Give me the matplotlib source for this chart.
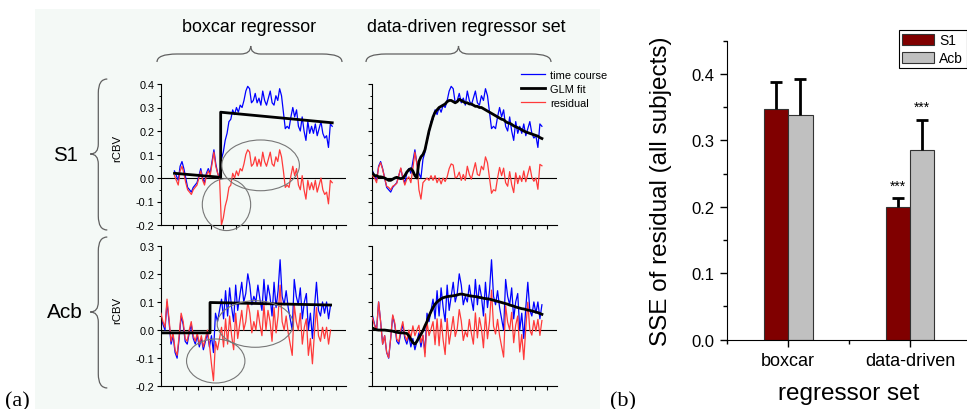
import numpy as np
import matplotlib
matplotlib.use("Agg")
import matplotlib.pyplot as plt
from matplotlib.patches import Ellipse, PathPatch, Rectangle
from matplotlib.path import Path
from matplotlib.ticker import MultipleLocator, FormatStrFormatter

plt.rcParams['font.family'] = ['Liberation Sans', 'DejaVu Sans']
plt.rcParams['axes.unicode_minus'] = False

# ---- (a) rCBV time courses, 85 samples each ----
s1_course = [0.03, 0.01, -0.01, 0.05, 0.07, 0.04, 0.00, -0.04, -0.05, -0.06,
             -0.04, -0.03, -0.02, 0.01, 0.04, 0.00, -0.02, 0.02, 0.04, 0.02,
             0.07, 0.12, 0.06, 0.02, 0.00, 0.08, 0.11, 0.16, 0.19, 0.24,
             0.25, 0.29, 0.27, 0.30, 0.28, 0.31, 0.30, 0.33, 0.37, 0.39,
             0.38, 0.32, 0.33, 0.36, 0.32, 0.34, 0.31, 0.37, 0.33, 0.31,
             0.34, 0.37, 0.32, 0.31, 0.35, 0.33, 0.38, 0.35, 0.28, 0.21,
             0.22, 0.21, 0.26, 0.30, 0.26, 0.29, 0.22, 0.20, 0.26, 0.20,
             0.16, 0.24, 0.19, 0.22, 0.19, 0.23, 0.18, 0.21, 0.24, 0.19,
             0.17, 0.18, 0.13, 0.23, 0.22]
s1_box_resid = [0.01, -0.01, -0.03, 0.03, 0.05, 0.02, -0.02, -0.05, -0.06, -0.07,
                -0.05, -0.04, -0.03, 0.00, 0.03, -0.01, -0.03, 0.01, 0.03, 0.01,
                0.06, 0.11, 0.05, 0.02, 0.00, -0.20, -0.17, -0.12, -0.09, -0.04,
                -0.03, 0.02, 0.00, 0.03, 0.01, 0.04, 0.03, 0.06, 0.10, 0.12,
                0.11, 0.05, 0.06, 0.09, 0.05, 0.08, 0.05, 0.11, 0.07, 0.05,
                0.08, 0.11, 0.06, 0.05, 0.09, 0.07, 0.12, 0.09, 0.03, -0.04,
                -0.03, -0.04, 0.01, 0.05, 0.01, 0.04, -0.03, -0.05, 0.01, -0.05,
                -0.09, -0.01, -0.05, -0.02, -0.05, -0.01, -0.06, -0.03, 0.00, -0.05,
                -0.07, -0.06, -0.11, -0.01, -0.02]
s1_box_fit_idx = [0, 24.6, 24.6, 84]
s1_box_fit = [0.02, 0.003, 0.28, 0.235]
s1_dd_fit = [0.02, 0.01, 0.01, 0.005, 0.005, 0.003, 0.0, -0.005, -0.01, -0.01,
             -0.005, 0.0, 0.003, 0.0, -0.003, 0.0, 0.01, 0.025, 0.035, 0.04,
             0.03, 0.01, 0.0, 0.07, 0.09, 0.10, 0.12, 0.16, 0.20, 0.23,
             0.26, 0.28, 0.29, 0.30, 0.305, 0.31, 0.315, 0.325, 0.33, 0.33,
             0.325, 0.32, 0.325, 0.335, 0.33, 0.325, 0.32, 0.32, 0.315, 0.315,
             0.31, 0.305, 0.305, 0.30, 0.30, 0.295, 0.29, 0.285, 0.28, 0.275,
             0.27, 0.265, 0.26, 0.255, 0.25, 0.248, 0.24, 0.235, 0.233, 0.228,
             0.222, 0.218, 0.214, 0.21, 0.205, 0.20, 0.196, 0.193, 0.19, 0.187,
             0.184, 0.181, 0.178, 0.172, 0.168]
s1_dd_resid = [0.01, 0.0, -0.02, 0.045, 0.065, 0.037, 0.0, -0.035, -0.04, -0.05,
               -0.035, -0.03, -0.023, 0.01, 0.043, 0.0, -0.03, -0.005, 0.005, -0.02,
               0.04, 0.11, 0.06, -0.05, -0.09, -0.02, -0.01, 0.0, -0.01, 0.01,
               -0.01, 0.01, -0.02, 0.0, -0.025, 0.0, -0.015, 0.005, 0.04, 0.06,
               0.055, 0.0, 0.005, 0.025, -0.01, 0.015, -0.01, 0.05, 0.015, -0.005,
               0.03, 0.065, 0.015, 0.01, 0.05, 0.035, 0.09, 0.065, 0.0, -0.065,
               -0.05, -0.055, 0.0, 0.045, 0.01, 0.042, -0.02, -0.035, 0.027, -0.028,
               -0.062, 0.022, -0.024, 0.01, -0.015, 0.03, -0.016, 0.017, 0.05, 0.003,
               -0.014, 0.0, -0.048, 0.058, 0.052]

acb_course = [0.05, 0.02, 0.00, 0.10, 0.03, -0.05, -0.02, -0.08, -0.10, -0.03,
              0.05, 0.02, -0.04, -0.05, -0.01, 0.02, -0.03, -0.05, -0.02, -0.06,
              -0.03, -0.07, -0.04, -0.01, -0.06, -0.02, -0.08, 0.06, 0.03, 0.07,
              0.11, 0.04, 0.14, 0.05, 0.15, 0.08, 0.03, 0.16, 0.07, 0.12,
              0.17, 0.10, 0.13, 0.20, 0.16, 0.09, 0.12, 0.10, 0.16, 0.11,
              0.07, 0.18, 0.09, 0.16, 0.12, 0.05, 0.17, 0.08, 0.14, 0.25,
              0.12, 0.09, 0.14, 0.08, 0.04, 0.00, 0.18, 0.12, 0.09, 0.15,
              0.04, 0.10, 0.13, 0.00, 0.06, -0.03, 0.08, 0.17, 0.07, 0.05,
              0.10, 0.06, 0.10, 0.04, 0.09]
acb_box_resid = [0.06, 0.03, 0.01, 0.11, 0.04, -0.04, -0.01, -0.07, -0.09, -0.02,
                 0.06, 0.03, -0.03, -0.04, 0.00, 0.03, -0.02, -0.04, -0.01, -0.05,
                 -0.02, -0.06, -0.03, 0.00, -0.05, -0.12, -0.18, -0.04, -0.07, -0.03,
                 0.01, -0.06, 0.04, -0.05, 0.05, -0.02, -0.07, 0.06, -0.03, 0.02,
                 0.07, 0.00, 0.03, 0.10, 0.06, -0.01, 0.03, 0.00, 0.07, 0.02,
                 -0.02, 0.09, 0.00, 0.07, 0.03, -0.04, 0.08, -0.01, 0.05, 0.16,
                 0.03, 0.00, 0.05, -0.01, -0.05, -0.09, 0.09, 0.03, 0.00, 0.06,
                 -0.05, 0.01, 0.04, -0.09, -0.03, -0.12, -0.01, 0.08, -0.02, -0.04,
                 0.01, -0.03, 0.01, -0.05, 0.00]
acb_box_fit_idx = [0, 24.3, 24.3, 84]
acb_box_fit = [-0.01, -0.01, 0.098, 0.089]
acb_dd_fit = [0.007, 0.004, 0.001, 0.0, 0.0, 0.0, 0.0, -0.001, -0.002, -0.003,
              -0.004, -0.006, -0.008, -0.009, -0.01, -0.01, -0.011, -0.012, -0.02, -0.033,
              -0.045, -0.05, -0.04, -0.027, -0.015, -0.002, 0.015, 0.03, 0.05, 0.066,
              0.08, 0.092, 0.10, 0.106, 0.111, 0.115, 0.117, 0.119, 0.12, 0.121,
              0.122, 0.123, 0.125, 0.127, 0.128, 0.127, 0.125, 0.124, 0.122, 0.121,
              0.12, 0.119, 0.118, 0.116, 0.115, 0.113, 0.112, 0.111, 0.11, 0.108,
              0.106, 0.104, 0.102, 0.10, 0.098, 0.096, 0.094, 0.092, 0.089, 0.087,
              0.085, 0.082, 0.08, 0.078, 0.076, 0.075, 0.073, 0.071, 0.07, 0.068,
              0.066, 0.064, 0.062, 0.059, 0.056]
acb_dd_resid = [0.043, 0.016, 0.0, 0.10, 0.03, -0.05, -0.02, -0.079, -0.098, -0.027,
                0.054, 0.026, -0.032, -0.041, 0.0, 0.03, -0.019, -0.038, 0.0, -0.027,
                0.015, -0.02, 0.0, 0.017, -0.045, -0.018, -0.095, 0.03, -0.02, 0.004,
                0.03, -0.052, 0.04, -0.056, 0.039, -0.035, -0.087, 0.041, -0.05, -0.001,
                0.048, -0.023, 0.005, 0.073, 0.032, -0.037, -0.005, -0.024, 0.038, -0.011,
                -0.05, 0.061, -0.028, 0.044, 0.005, -0.063, 0.058, -0.031, 0.03, 0.142,
                0.014, -0.014, 0.038, -0.02, -0.058, -0.096, 0.086, 0.028, 0.001, 0.063,
                -0.045, 0.018, 0.05, -0.078, -0.016, -0.105, 0.007, 0.099, 0.0, -0.018,
                0.034, -0.004, 0.038, -0.019, 0.034]

# ---- (b) SSE of residual ----
groups = ['boxcar', 'data-driven']
s1_sse = [0.347, 0.200]
s1_err = [0.041, 0.013]
acb_sse = [0.338, 0.286]
acb_err = [0.054, 0.045]
stars = ['', '***']

W, H = 967, 410
fig = plt.figure(figsize=(W / 100, H / 100), dpi=100)


def fx(x):
    return x / W


def fy(y):
    return 1 - y / H


def axes_px(left, top, right, bottom):
    return fig.add_axes([fx(left), fy(bottom), (right - left) / W, (bottom - top) / H])


# pale background behind panel (a)
fig.patches.append(Rectangle((fx(35), 0), 565 / W, 400 / H, transform=fig.transFigure,
                             facecolor='#f4f9f6', edgecolor='none', zorder=-10))


def brace(pts_codes):
    verts = [(fx(x), fy(y)) for x, y in pts_codes[0]]
    p = PathPatch(Path(verts, pts_codes[1]), transform=fig.transFigure,
                  fill=False, edgecolor='#606060', lw=0.9)
    fig.patches.append(p)


C3, LT, MT = Path.CURVE3, Path.LINETO, Path.MOVETO


def hbrace(x1, x2, xm, y, depth=8, tip=8, r=20, rt=10):
    pts = [(x1, y + depth), (x1, y), (x1 + r, y), (xm - rt, y), (xm, y), (xm, y - tip),
           (xm, y), (xm + rt, y), (x2 - r, y), (x2, y), (x2, y + depth)]
    brace((pts, [MT, C3, C3, LT, C3, C3, C3, C3, LT, C3, C3]))


def vbrace(y1, y2, ym, x, depth=9, tip=8, r=14, rt=10):
    pts = [(x + depth, y1), (x, y1), (x, y1 + r), (x, ym - rt), (x, ym), (x - tip, ym),
           (x, ym), (x, ym + rt), (x, y2 - r), (x, y2), (x + depth, y2)]
    brace((pts, [MT, C3, C3, LT, C3, C3, C3, C3, LT, C3, C3]))


hbrace(157, 342, 250.7, 55)
hbrace(366, 551, 458.5, 55)
vbrace(80, 231, 155, 98.3)
vbrace(238, 389, 313, 98.3)

fig.text(fx(249.3), fy(27), 'boxcar regressor', ha='center', va='center', fontsize=12.9)
fig.text(fx(465.8), fy(28), 'data-driven regressor set', ha='center', va='center', fontsize=12.9)
fig.text(fx(65.8), fy(156), 'S1', ha='center', va='center', fontsize=14.7)
fig.text(fx(64.7), fy(313), 'Acb', ha='center', va='center', fontsize=15)
fig.text(fx(5), fy(406), '(a)', ha='left', va='baseline', fontsize=16, family='Liberation Serif')
fig.text(fx(610), fy(406), '(b)', ha='left', va='baseline', fontsize=16, family='Liberation Serif')

n = len(s1_course)
idx = np.arange(n)


def panel(ax, x0, dx, course, resid, fit_idx, fit, ylim, left_labels):
    ax.set_facecolor('none')
    ax.axhline(0, color='black', lw=0.8, zorder=1)
    lb, = ax.plot(x0 + dx * idx, course, color='#0000ff', lw=0.9, zorder=2)
    lr, = ax.plot(x0 + dx * idx, resid, color='#ff3a3a', lw=0.9, zorder=3)
    lk, = ax.plot(x0 + dx * np.asarray(fit_idx), fit, color='black', lw=2, zorder=4)
    ax.set_xlim(0, 14.8)
    ax.set_ylim(*ylim)
    ax.set_xticks(np.arange(1, 15))
    ax.set_xticklabels([])
    ax.yaxis.set_major_locator(MultipleLocator(0.1))
    ax.yaxis.set_minor_locator(MultipleLocator(0.05))
    ax.yaxis.set_major_formatter(FormatStrFormatter('%.1f'))
    ax.tick_params(axis='x', direction='out', length=3, width=0.8)
    ax.tick_params(axis='y', which='major', direction='out', length=3, width=0.8,
                   labelsize=7.8, pad=1.5, labelleft=left_labels)
    ax.tick_params(axis='y', which='minor', direction='out', length=1.8, width=0.7)
    for s in ['top', 'right']:
        ax.spines[s].set_visible(False)
    for s in ['left', 'bottom']:
        ax.spines[s].set_linewidth(0.8)
    if left_labels:
        ax.set_ylabel('rCBV', fontsize=8.2)
        ax.yaxis.set_label_coords(-0.21, 0.55)
    return lb, lk, lr


ax1 = axes_px(160.7, 85, 346, 226)
ax2 = axes_px(372.3, 85, 557.3, 226)
ax3 = axes_px(160.7, 246.7, 346, 387.3)
ax4 = axes_px(372.3, 246.7, 557.3, 387.3)

dx_full = 13.55 / (n - 1)
panel(ax1, 1.1, 0.15, s1_course, s1_box_resid, s1_box_fit_idx, s1_box_fit, (-0.2, 0.4), True)
handles = panel(ax2, 0.02, dx_full, s1_course, s1_dd_resid, idx, s1_dd_fit, (-0.2, 0.4), False)
panel(ax3, 0.02, dx_full, acb_course, acb_box_resid, acb_box_fit_idx, acb_box_fit, (-0.2, 0.3), True)
panel(ax4, 0.02, dx_full, acb_course, acb_dd_resid, idx, acb_dd_fit, (-0.2, 0.3), False)

ax2.legend(handles, ['time course', 'GLM fit', 'residual'], loc='upper left',
           bbox_to_anchor=(fx(521), fy(71)), bbox_transform=fig.transFigure,
           frameon=False, fontsize=7.9, handlelength=2.2, handletextpad=0.45,
           labelspacing=0.38, borderpad=0, borderaxespad=0)

# grey ellipses around the boxcar residual misfit
for ax, (cx, cy, w, h) in [(ax1, (0.355, 0.145, 0.261, 0.369)), (ax1, (0.539, 0.423, 0.419, 0.36)),
                           (ax3, (0.297, 0.18, 0.315, 0.313)), (ax3, (0.51, 0.443, 0.41, 0.331))]:
    ax.add_patch(Ellipse((cx, cy), w, h, transform=ax.transAxes, fill=False,
                         edgecolor='#777777', lw=0.8, clip_on=False, zorder=5))

# ---- (b) bar chart ----
axb = axes_px(727.3, 41.7, 970.9, 340.7)
x = np.arange(len(groups))
bw = 0.2
axb.bar(x - bw / 2, s1_sse, bw, color='#800000', edgecolor='#333333', lw=0.8, label='S1', zorder=2)
axb.bar(x + bw / 2, acb_sse, bw, color='#c0c0c0', edgecolor='#333333', lw=0.8, label='Acb', zorder=2)
for xs, vals, errs in [(x - bw / 2, s1_sse, s1_err), (x + bw / 2, acb_sse, acb_err)]:
    tops = np.array(vals) + np.array(errs)
    axb.vlines(xs, vals, tops, color='black', lw=2, zorder=3)
    axb.plot(xs, tops, ls='none', marker='_', ms=8, mew=2, color='black', zorder=3)
    for xi, t, s in zip(xs, tops, stars):
        if s:
            axb.annotate(s, xy=(xi, t), xytext=(0, 4), textcoords='offset points',
                         ha='center', va='bottom', fontsize=10)

axb.set_xlim(-0.5, 1.5)
axb.set_ylim(0, 0.45)
axb.set_xticks(x)
axb.set_xticklabels(groups)
axb.xaxis.set_minor_locator(MultipleLocator(0.5))
axb.yaxis.set_major_locator(MultipleLocator(0.1))
axb.yaxis.set_minor_locator(MultipleLocator(0.05))
axb.yaxis.set_major_formatter(FormatStrFormatter('%.1f'))
axb.tick_params(axis='x', which='major', direction='out', length=5, width=1, labelsize=13, pad=4)
axb.tick_params(axis='x', which='minor', direction='out', length=3, width=1)
axb.tick_params(axis='y', which='major', direction='out', length=5, width=1, labelsize=12, pad=4)
axb.tick_params(axis='y', which='minor', direction='out', length=3, width=1)
for s in ['top', 'right']:
    axb.spines[s].set_visible(False)
axb.set_ylabel('SSE of residual (all subjects)', fontsize=17.5)
axb.yaxis.set_label_coords(-0.228, 0.5)
axb.set_xlabel('regressor set', fontsize=17.5)
axb.xaxis.set_label_coords(0.5, -0.14)
leg = axb.legend(loc='upper right', bbox_to_anchor=(fx(966.5), fy(31)), bbox_transform=fig.transFigure,
                 frameon=True, fancybox=False, edgecolor='black', framealpha=1, fontsize=10,
                 handlelength=2.3, handleheight=0.85, handletextpad=0.35, borderpad=0.25,
                 labelspacing=0.25, borderaxespad=0)
leg.get_frame().set_linewidth(0.8)

fig.savefig('out.png', dpi=100)
